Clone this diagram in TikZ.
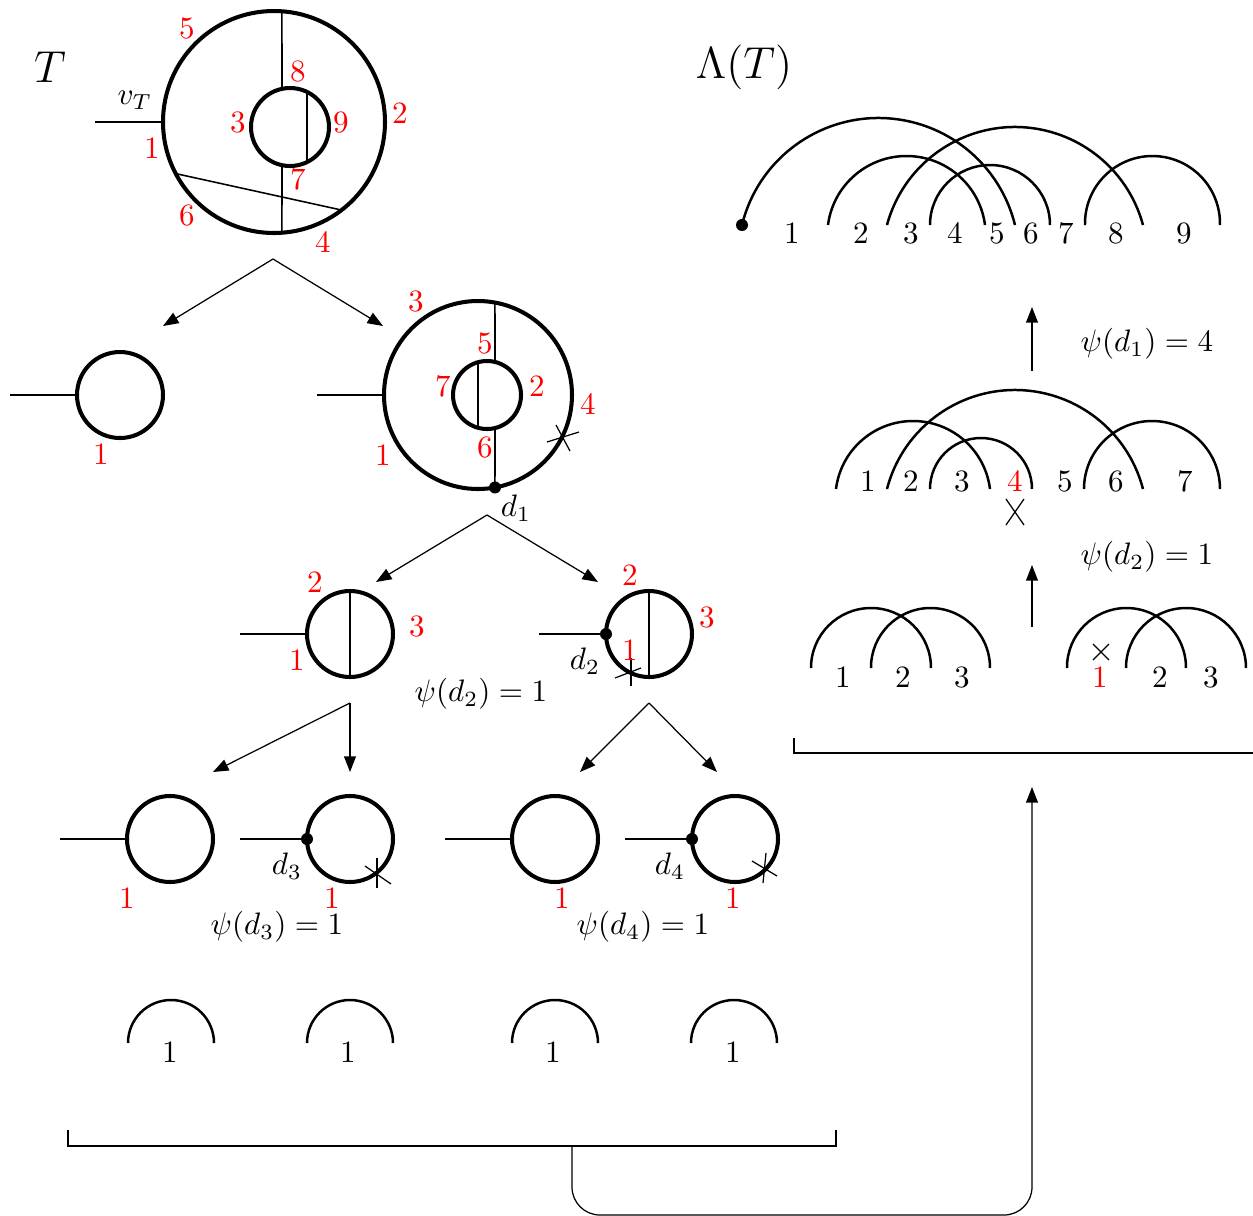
\documentclass[tikz,border=0pt]{standalone}
\usepackage{amsmath,amssymb}
\usepackage{xcolor}
\usepackage{tikz}
\usetikzlibrary{calc,arrows.meta,positioning}
\definecolor{lblRed}{RGB}{255,0,0}

% arc of a chord diagram: left end, right end, base line, height
\newcommand{\linkarc}[4]{%
  \pgfmathsetmacro{\lkw}{((#2)-(#1))/2}%
  \pgfmathsetmacro{\lkR}{(\lkw*(\lkw/(#4))+(#4))/2}%
  \pgfmathsetmacro{\lkphi}{asin((\lkR-(#4))/\lkR)}%
  \draw[arcline] ({#1},{#3}) arc[start angle={180-\lkphi}, end angle=\lkphi, radius=\lkR];%
}

\begin{document}
\begin{tikzpicture}[x=0.322pt,y=0.322pt,
    loopline/.style={line width=1.3pt},
    chordline/.style={line width=0.5pt},
    arcline/.style={line width=0.8pt},
    flow/.style={line width=0.4pt,-{Triangle[length=5pt,width=3.8pt]}},
    cutline/.style={line width=0.4pt},
    redlbl/.style={text=lblRed,inner sep=1pt},
    blklbl/.style={inner sep=1pt}]
    \useasboundingbox (0,0) rectangle (1253,-1216);

    % the tree T
    \node[blklbl] (Tname) at (50,-67) {\Large $T$};
    \coordinate (Tc) at (274,-122);
    \coordinate (Ti) at (290,-127);
    \draw[loopline] (Tc) circle (111);
    \draw[loopline] (Ti) circle (39);
    \draw[chordline] ($(Tc)+(85.9:111)$) -- ($(Ti)+(101.8:39)$);
    \draw[chordline] ($(Ti)+(258.2:39)$) -- ($(Tc)+(274.1:111)$);
    \draw[chordline] ($(Ti)+(64.2:39)$) -- ($(Ti)+(295.8:39)$);
    \draw[chordline] ($(Tc)+(207.7:111)$) -- ($(Tc)+(307.5:111)$);
    \coordinate (Troot) at ($(Tc)+(180:111)$);
    \coordinate (Ttail) at (95,-122);
    \draw[chordline] (Ttail) -- (Troot);
    \node[blklbl] (vT) at (135,-100) {$v_T$};
    \node[redlbl] (T5) at (187,-28) {5};
    \node[redlbl] (T8) at (298,-71) {8};
    \node[redlbl] (T3) at (238,-122) {3};
    \node[redlbl] (T9) at (341,-122) {9};
    \node[redlbl] (T2) at (400,-113) {2};
    \node[redlbl] (T1) at (152,-148) {1};
    \node[redlbl] (T7) at (298,-179) {7};
    \node[redlbl] (T6) at (187,-215) {6};
    \node[redlbl] (T4) at (323,-242) {4};

    % first split
    \coordinate (splitA) at (273,-259);
    \coordinate (tipA1) at (163,-326);
    \coordinate (tipA2) at (383,-326);
    \draw[flow] (splitA) -- (tipA1);
    \draw[flow] (splitA) -- (tipA2);

    % left piece
    \coordinate (La) at (120,-395);
    \draw[loopline] (La) circle (43);
    \draw[chordline] (10,-395) -- ($(La)+(180:43)$);
    \node[redlbl] (La1) at (101,-454) {1};

    % right piece
    \coordinate (Bc) at (478,-395);
    \coordinate (Bi) at (487,-395);
    \draw[loopline] (Bc) circle (94);
    \draw[loopline] (Bi) circle (34);
    \draw[chordline] ($(Bc)+(79.6:94)$) -- ($(Bi)+(76.4:34)$);
    \draw[chordline] ($(Bi)+(283.6:34)$) -- ($(Bc)+(280.4:94)$);
    \draw[chordline] ($(Bi)+(105.3:34)$) -- ($(Bi)+(254.7:34)$);
    \draw[chordline] (317,-395) -- ($(Bc)+(180:94)$);
    \fill ($(Bc)+(280.4:94)$) circle (6);
    \coordinate (cut1) at (563,-437);
    \draw[cutline] ($(cut1)+(-16,-5)$) -- ($(cut1)+(16,5)$);
    \draw[cutline] ($(cut1)+(-7,12)$) -- ($(cut1)+(7,-14)$);
    \node[redlbl] (B3) at (416,-301) {3};
    \node[redlbl] (B5) at (485,-343) {5};
    \node[redlbl] (B7) at (443,-386) {7};
    \node[redlbl] (B2) at (537,-386) {2};
    \node[redlbl] (B4) at (588,-404) {4};
    \node[redlbl] (B1) at (383,-455) {1};
    \node[redlbl] (B6) at (485,-447) {6};
    \node[blklbl] (d1) at (516,-508) {$d_1$};

    % second split
    \coordinate (splitB) at (487,-515);
    \coordinate (tipB1) at (376,-582);
    \coordinate (tipB2) at (598,-582);
    \draw[flow] (splitB) -- (tipB1);
    \draw[flow] (splitB) -- (tipB2);

    \coordinate (Ca) at (350,-634);
    \draw[loopline] (Ca) circle (43);
    \draw[chordline] ($(Ca)+(90:43)$) -- ($(Ca)+(270:43)$);
    \draw[chordline] (240,-634) -- ($(Ca)+(180:43)$);
    \node[redlbl] (Ca2) at (315,-582) {2};
    \node[redlbl] (Ca3) at (417,-626) {3};
    \node[redlbl] (Ca1) at (297,-660) {1};

    \coordinate (Cb) at (649,-634);
    \draw[loopline] (Cb) circle (43);
    \draw[chordline] ($(Cb)+(90:43)$) -- ($(Cb)+(270:43)$);
    \draw[chordline] (539,-634) -- ($(Cb)+(180:43)$);
    \fill ($(Cb)+(180:43)$) circle (6);
    \coordinate (cut2) at (631,-672);
    \draw[cutline] ($(cut2)+(0,14)$) -- ($(cut2)+(0,-14)$);
    \draw[cutline] ($(cut2)+(-16,-6)$) -- ($(cut2)+(10,4)$);
    \node[redlbl] (Cb2) at (630,-575) {2};
    \node[redlbl] (Cb3) at (707,-617) {3};
    \node[redlbl] (Cb1) at (630,-650) {1};
    \node[blklbl] (d2) at (585,-661) {$d_2$};
    \node[blklbl] (psi2) at (481,-694) {$\psi(d_2)=1$};

    % third split
    \coordinate (splitC) at (350,-703);
    \coordinate (splitD) at (649,-703);
    \coordinate (tipC1) at (213,-772);
    \coordinate (tipC2) at (350,-772);
    \coordinate (tipD1) at (580,-772);
    \coordinate (tipD2) at (717,-772);
    \draw[flow] (splitC) -- (tipC1);
    \draw[flow] (splitC) -- (tipC2);
    \draw[flow] (splitD) -- (tipD1);
    \draw[flow] (splitD) -- (tipD2);

    % single loops
    \foreach \nm/\cx in {Da/170,Db/350,Dc/555,Dd/735}{
        \coordinate (\nm) at (\cx,-839);
        \draw[loopline] (\nm) circle (43);
        \draw[chordline] ($(\nm)+(-110,0)$) -- ($(\nm)+(180:43)$);
    }
    \fill ($(Db)+(180:43)$) circle (6);
    \fill ($(Dd)+(180:43)$) circle (6);
    \coordinate (cut3) at (377,-873);
    \draw[cutline] ($(cut3)+(0,15)$) -- ($(cut3)+(0,-15)$);
    \draw[cutline] ($(cut3)+(-12,7)$) -- ($(cut3)+(14,-11)$);
    \coordinate (cut4) at (764,-868);
    \draw[cutline] ($(cut4)+(2,15)$) -- ($(cut4)+(-1,-15)$);
    \draw[cutline] ($(cut4)+(-12,7)$) -- ($(cut4)+(13,-8)$);
    \node[redlbl] (Da1) at (127,-898) {1};
    \node[redlbl] (Db1) at (332,-898) {1};
    \node[redlbl] (Dc1) at (562,-898) {1};
    \node[redlbl] (Dd1) at (733,-898) {1};
    \node[blklbl] (d3) at (287,-866) {$d_3$};
    \node[blklbl] (d4) at (670,-866) {$d_4$};
    \node[blklbl] (psi3) at (277,-927) {$\psi(d_3)=1$};
    \node[blklbl] (psi4) at (643,-927) {$\psi(d_4)=1$};

    % single arcs
    \foreach \nm/\cx/\lx in {Ea/171/170,Eb/350/348,Ec/555/553,Ed/734/733}{
        \linkarc{\cx-43}{\cx+43}{-1043}{43}
        \node[blklbl] (\nm) at (\lx,-1052) {$1$};
    }

    % gathering
    \coordinate (gatherL) at (572,-1146);
    \coordinate (gatherR) at (1032,-787);
    \draw[line width=0.6pt] (68,-1130) |- (836,-1146) -- (836,-1130);
    \draw[flow,rounded corners=9pt] (gatherL) -- ++(0,-69) -| (gatherR);
    \draw[line width=0.4pt] (794,-738) |- (1253,-753);

    % chord diagrams on the right
    \linkarc{811}{931}{-668}{60}
    \linkarc{871}{990}{-668}{60}
    \linkarc{1067}{1186}{-668}{60}
    \linkarc{1126}{1246}{-668}{60}
    \node[blklbl] (Fa1) at (843,-677) {$1$};
    \node[blklbl] (Fa2) at (903,-677) {$2$};
    \node[blklbl] (Fa3) at (962,-677) {$3$};
    \node[redlbl] (Fb1) at (1100,-677) {1};
    \node[blklbl] (Fb2) at (1160,-677) {$2$};
    \node[blklbl] (Fb3) at (1211,-677) {$3$};
    \coordinate (cut5) at (1101,-652);
    \draw[cutline] ($(cut5)+(-8,8)$) -- ($(cut5)+(8,-8)$);
    \draw[cutline] ($(cut5)+(8,8)$) -- ($(cut5)+(-8,-8)$);

    \coordinate (upAfrom) at (1032,-627);
    \coordinate (upAto) at (1032,-565);
    \draw[flow] (upAfrom) -- (upAto);
    \node[blklbl] (psiR2) at (1147,-557) {$\psi(d_2)=1$};

    \linkarc{836}{990}{-489}{68}
    \linkarc{887}{1143}{-489}{99}
    \linkarc{930}{1032}{-489}{51}
    \linkarc{1084}{1220}{-489}{68}
    \foreach \k/\lx in {1/868,2/911,3/962,5/1065,6/1116,7/1185}
        \node[blklbl] (G\k) at (\lx,-481) {$\k$};
    \node[redlbl] (G4) at (1015,-481) {4};
    \coordinate (cut6) at (1015,-512);
    \draw[cutline] ($(cut6)+(-9,13)$) -- ($(cut6)+(9,-13)$);
    \draw[cutline] ($(cut6)+(9,13)$) -- ($(cut6)+(-9,-13)$);

    \coordinate (upBfrom) at (1032,-371);
    \coordinate (upBto) at (1032,-307);
    \draw[flow] (upBfrom) -- (upBto);
    \node[blklbl] (psiR1) at (1147,-344) {$\psi(d_1)=4$};

    \node[blklbl] (LTname) at (744,-67) {\Large $\Lambda(T)$};
    \linkarc{742}{1015}{-225}{107}
    \linkarc{828}{985}{-225}{69}
    \linkarc{887}{1143}{-225}{98}
    \linkarc{930}{1050}{-225}{60}
    \linkarc{1085}{1220}{-225}{69}
    \fill (742,-225) circle (6);
    \foreach \k/\lx in {1/792,2/861,3/911,4/955,5/997,6/1031,7/1066,8/1116,9/1184}
        \node[blklbl] (H\k) at (\lx,-233) {$\k$};
\end{tikzpicture}
\end{document}
